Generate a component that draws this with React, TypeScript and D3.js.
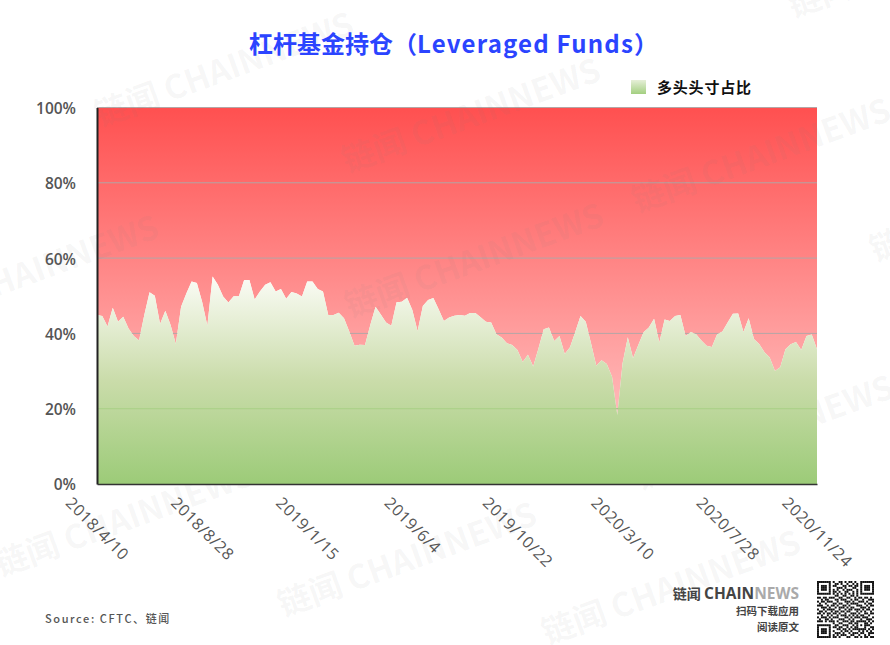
import { useEffect, useRef } from "react";
import * as d3 from "d3";

const width = 890;
const height = 645;

// weekly long share of leveraged funds
const longShare = [
  44.9, 44.6, 41.8, 46.8, 43.1, 44.4, 41.3, 39.3, 38.1, 44.9, 50.9, 50.0, 42.5, 46.0, 42.2, 37.2, 47.1, 50.6, 53.8, 53.4,
  48.4, 42.0, 55.1, 52.9, 49.8, 48.2, 49.9, 49.9, 54.2, 54.2, 49.0, 51.1, 52.9, 53.6, 51.1, 51.8, 49.2, 51.0, 50.6, 49.8,
  53.8, 53.8, 51.8, 51.1, 44.9, 44.9, 45.5, 44.0, 40.5, 36.7, 37.0, 36.9, 42.2, 47.1, 45.0, 42.9, 42.0, 48.3, 48.4, 49.5,
  46.2, 40.6, 47.3, 48.9, 49.4, 46.4, 43.3, 44.2, 44.7, 44.9, 44.7, 45.4, 45.4, 44.3, 43.1, 42.9, 39.8, 38.9, 37.4, 36.9,
  35.6, 32.4, 34.3, 31.2, 36.0, 41.1, 41.6, 38.0, 39.3, 34.5, 36.3, 40.4, 44.6, 43.1, 37.4, 31.4, 32.9, 31.9, 28.5, 18.3,
  32.0, 39.0, 33.4, 36.9, 40.3, 41.6, 43.9, 37.6, 43.7, 43.3, 44.6, 44.9, 39.3, 40.4, 39.8, 38.1, 36.7, 36.4, 39.8, 40.5,
  42.9, 45.2, 45.3, 40.4, 44.0, 38.5, 37.2, 35.0, 33.6, 30.0, 31.0, 35.8, 37.1, 37.7, 35.6, 39.3, 39.7, 35.8,
];

const xTickIndex = [0, 20, 40, 60, 80, 100, 120, 137];
const xTickLabels = [
  "2018/4/10",
  "2018/8/28",
  "2019/1/15",
  "2019/6/4",
  "2019/10/22",
  "2020/3/10",
  "2020/7/28",
  "2020/11/24",
];
const yTicks = [0, 20, 40, 60, 80, 100];

// [start x, start y] of the faint site marks
const watermarks = [
  [100, 127],
  [347, 173],
  [637, 213],
  [-95, 330],
  [350, 318],
  [0, 577],
  [283, 617],
  [547, 645],
  [640, 490],
  [793, 18],
  [875, 262],
];

const qrRows = [
  "11111110100110101101001111111",
  "10000010011010010010101000001",
  "10111010110001101101101011101",
  "10111010001110100011001011101",
  "10111010101001011100101011101",
  "10000010110100110010101000001",
  "11111110101010101010101111111",
  "00000000011001100110100000000",
  "11011011100110011001011011010",
  "00101100011011100101100100111",
  "10110111001000111010011101001",
  "01001000110110010111100010110",
  "11100101101001101000111001011",
  "00111010010111010110001110100",
  "10010111100100101101110101101",
  "01101001011011011000101010010",
  "11010110110100100111010011011",
  "00100101001011101010101100100",
  "10111010111000110101110111001",
  "01001101000111001010001001110",
  "11101011101001110110111110101",
  "00000000100110001101100011010",
  "11111110011001110010101011100",
  "10000010110110010101100010011",
  "10111010001101101011111110101",
  "10111010100010110100010101010",
  "10111010011101001011101100111",
  "10000010101011100110010010100",
  "11111110110100011001101011011",
];

const margin = { left: 97, right: 817, top: 107.5, bottom: 484 };
const labelFont = "'Open Sans', 'Noto Sans CJK SC', sans-serif";
const cjkFont = "'Noto Sans CJK SC', 'Open Sans', sans-serif";

export default function App() {
  const svgRef = useRef<SVGSVGElement>(null);

  useEffect(() => {
    if (!svgRef.current) return;
    const svg = d3.select(svgRef.current);
    svg.selectAll("*").remove();

    const x = d3.scaleLinear().domain([0, longShare.length - 1]).range([margin.left, margin.right]);
    const y = d3.scaleLinear().domain([0, 100]).range([margin.bottom, margin.top]);

    const defs = svg.append("defs");

    const redGrad = defs
      .append("linearGradient")
      .attr("id", "shortFill")
      .attr("gradientUnits", "userSpaceOnUse")
      .attr("x1", 0)
      .attr("x2", 0)
      .attr("y1", y(100))
      .attr("y2", y(0));
    redGrad.append("stop").attr("offset", 0).attr("stop-color", "#ff5050");
    redGrad.append("stop").attr("offset", 1).attr("stop-color", "#ffd2d2");

    const greenGrad = defs
      .append("linearGradient")
      .attr("id", "longFill")
      .attr("gradientUnits", "userSpaceOnUse")
      .attr("x1", 0)
      .attr("x2", 0)
      .attr("y1", y(d3.max(longShare) ?? 55))
      .attr("y2", y(0));
    greenGrad.append("stop").attr("offset", 0).attr("stop-color", "#fbfcf6");
    greenGrad.append("stop").attr("offset", 0.5).attr("stop-color", "#cadcaa");
    greenGrad.append("stop").attr("offset", 1).attr("stop-color", "#9ccb78");

    const legendGrad = defs
      .append("linearGradient")
      .attr("id", "legendFill")
      .attr("x1", 0)
      .attr("x2", 0)
      .attr("y1", 0)
      .attr("y2", 1);
    legendGrad.append("stop").attr("offset", 0).attr("stop-color", "#e6efd8");
    legendGrad.append("stop").attr("offset", 1).attr("stop-color", "#a3cf80");

    // Short share fills from the long line up to 100%
    const shortArea = d3
      .area<number>()
      .x((_, i) => x(i))
      .y0((d) => y(d))
      .y1(y(100));
    const longArea = d3
      .area<number>()
      .x((_, i) => x(i))
      .y0(y(0))
      .y1((d) => y(d));

    svg.append("path").datum(longShare).attr("d", shortArea).attr("fill", "url(#shortFill)");

    // Grid sits between the two areas
    svg
      .append("g")
      .selectAll("line")
      .data(yTicks.filter((d) => d > 0))
      .join("line")
      .attr("x1", margin.left)
      .attr("x2", margin.right)
      .attr("y1", (d) => y(d))
      .attr("y2", (d) => y(d))
      .attr("stroke", "#b3a6a6")
      .attr("stroke-width", 1);

    // Watermarks show on white and on red, the green area covers them
    svg
      .append("g")
      .selectAll("text")
      .data(watermarks)
      .join("text")
      .attr("transform", (d) => `translate(${d[0]},${d[1]}) rotate(-20)`)
      .attr("fill", "#808080")
      .attr("fill-opacity", 0.07)
      .attr("font-family", cjkFont)
      .attr("font-size", 33)
      .attr("font-weight", 700)
      .text("链闻 CHAINNEWS");

    svg.append("path").datum(longShare).attr("d", longArea).attr("fill", "url(#longFill)");

    svg
      .append("line")
      .attr("x1", margin.left)
      .attr("x2", margin.right)
      .attr("y1", y(20))
      .attr("y2", y(20))
      .attr("stroke", "#9ccb78")
      .attr("stroke-opacity", 0.6);

    // Axes
    const yAxis = svg
      .append("g")
      .attr("transform", `translate(${margin.left},0)`)
      .call(
        d3
          .axisLeft(y)
          .tickValues(yTicks)
          .tickSize(0)
          .tickPadding(21)
          .tickFormat((d) => `${d}%`),
      );
    yAxis.select(".domain").attr("stroke", "#222").attr("stroke-width", 2);
    yAxis
      .selectAll("text")
      .attr("y", 1)
      .attr("fill", "#555")
      .attr("font-family", labelFont)
      .attr("font-size", 15.5)
      .attr("font-weight", 600);

    const xAxis = svg
      .append("g")
      .attr("transform", `translate(0,${margin.bottom})`)
      .call(
        d3
          .axisBottom(x)
          .tickValues(xTickIndex)
          .tickSize(0)
          .tickFormat((_, i) => xTickLabels[i]),
      );
    xAxis.select(".domain").attr("stroke", "#333").attr("stroke-width", 1.5);
    // Labels are centred on the tick horizontally and all start at the same height
    xAxis
      .selectAll<SVGTextElement, number>("text")
      .attr("fill", "#555")
      .attr("font-family", labelFont)
      .attr("font-size", 16)
      .attr("letter-spacing", 0.6)
      .attr("text-anchor", "start")
      .attr("dy", null)
      .attr("y", 0)
      .attr("transform", function () {
        const half = (this.getComputedTextLength() / 2) * Math.SQRT1_2;
        return `translate(${-half - 4},20) rotate(45)`;
      });

    // Title and legend
    const title = svg
      .append("text")
      .attr("x", 249)
      .attr("y", 53)
      .attr("fill", "#2b44ff")
      .attr("font-family", cjkFont)
      .attr("font-size", 24)
      .attr("font-weight", 700);
    title.append("tspan").text("杠杆基金持仓（");
    title.append("tspan").attr("letter-spacing", 1.2).text("Leveraged Funds");
    title.append("tspan").text("）");

    svg
      .append("rect")
      .attr("x", 631)
      .attr("y", 80)
      .attr("width", 15)
      .attr("height", 14)
      .attr("fill", "url(#legendFill)");
    svg
      .append("text")
      .attr("x", 657)
      .attr("y", 93)
      .attr("fill", "#111")
      .attr("font-family", cjkFont)
      .attr("font-size", 15)
      .attr("font-weight", 700)
      .attr("letter-spacing", 0.8)
      .text("多头头寸占比");

    svg
      .append("text")
      .attr("x", 45)
      .attr("y", 623)
      .attr("fill", "#555")
      .attr("font-family", cjkFont)
      .attr("font-size", 11)
      .attr("font-weight", 500)
      .attr("letter-spacing", 1.6)
      .text("Source: CFTC、链闻");

    // Brand block, bottom right
    const brand = svg.append("text").attr("x", 799).attr("y", 599).attr("text-anchor", "end");
    brand
      .append("tspan")
      .attr("fill", "#444")
      .attr("font-family", cjkFont)
      .attr("font-size", 14)
      .attr("font-weight", 700)
      .text("链闻 ");
    brand
      .append("tspan")
      .attr("fill", "#444")
      .attr("font-family", labelFont)
      .attr("font-size", 15.5)
      .attr("font-weight", 700)
      .text("CHAIN");
    brand
      .append("tspan")
      .attr("fill", "#aaa")
      .attr("font-family", labelFont)
      .attr("font-size", 15.5)
      .attr("font-weight", 700)
      .text("NEWS");

    svg
      .selectAll(".brand-line")
      .data([
        ["扫码下载应用", 615],
        ["阅读原文", 631],
      ])
      .join("text")
      .attr("x", 799)
      .attr("y", (d) => +d[1])
      .attr("text-anchor", "end")
      .attr("fill", "#444")
      .attr("font-family", cjkFont)
      .attr("font-size", 10.5)
      .attr("font-weight", 700)
      .text((d) => d[0]);

    // QR code
    const cell = 57 / qrRows.length;
    svg
      .append("g")
      .attr("transform", "translate(817,581)")
      .selectAll("rect")
      .data(qrRows.flatMap((row, r) => row.split("").flatMap((c, k) => (c === "1" ? [[k, r]] : []))))
      .join("rect")
      .attr("x", (d) => d[0] * cell)
      .attr("y", (d) => d[1] * cell)
      .attr("width", cell)
      .attr("height", cell)
      .attr("fill", "#111");
  }, []);

  return (
    <svg
      ref={svgRef}
      width={width}
      height={height}
      style={{ position: "absolute", left: 0, top: 0, background: "#fff" }}
    />
  );
}
